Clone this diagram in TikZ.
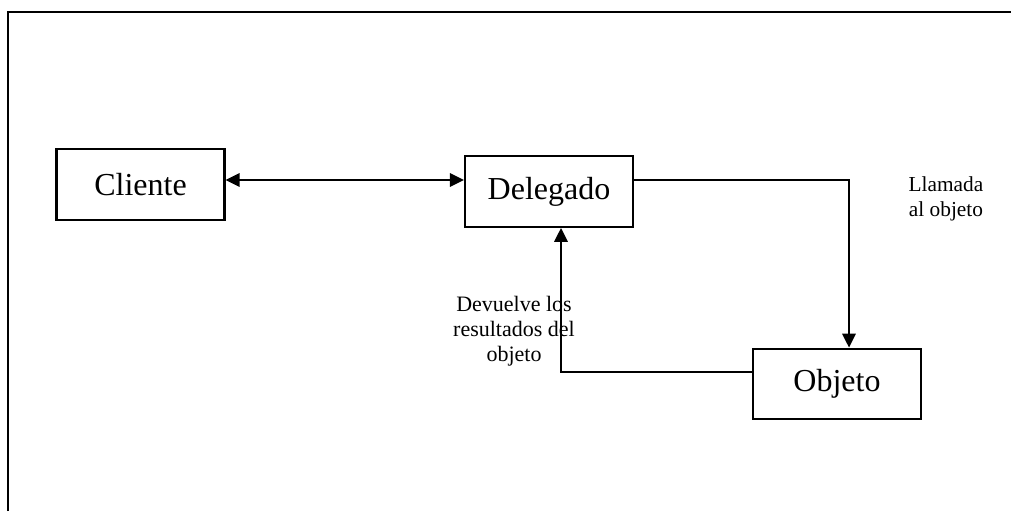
\documentclass[tikz,border=0pt]{standalone}
\usepackage{fontspec}
\setmainfont{Liberation Serif}
\usetikzlibrary{arrows.meta}
\begin{document}
\begin{tikzpicture}[x=0.75pt, y=-0.75pt,
            caja/.style={shape=rectangle, draw=black, line width=1.6pt, inner sep=0pt,
                minimum width=126pt, minimum height=53pt, font=\fontsize{24}{28}\selectfont},
            nota/.style={align=center, font=\fontsize{16}{18.3}\selectfont},
            flecha/.style={line width=1.7pt, >={Triangle[length=10.5pt, width=10pt]}}]
            \useasboundingbox (0,0) rectangle (1011,511);
            \draw[line width=2pt] (8,511) -- (8,12) -- (1011,12);
            \node[caja](cliente)  at (140.5,184.5) {Cliente};
            \node[caja](delegado) at (549,191.5) {Delegado};
            \node[caja](objeto)   at (837,384) {Objeto};
            \node[nota](llamada)  at (946,199) {Llamada\\al objeto};
            \node[nota, font=\fontsize{16.5}{18.6}\selectfont](devuelve) at (514,331) {Devuelve los\\resultados del\\objeto};
            \draw[flecha, <->] (cliente.east |- 0,180) -- (delegado.west |- 0,180);
            \draw[flecha, ->] (delegado.east |- 0,180) -| (objeto.north -| 849,0);
            \draw[flecha, ->] (objeto.west |- 0,372) -| (delegado.south -| 561,0);
        \end{tikzpicture}
\end{document}
